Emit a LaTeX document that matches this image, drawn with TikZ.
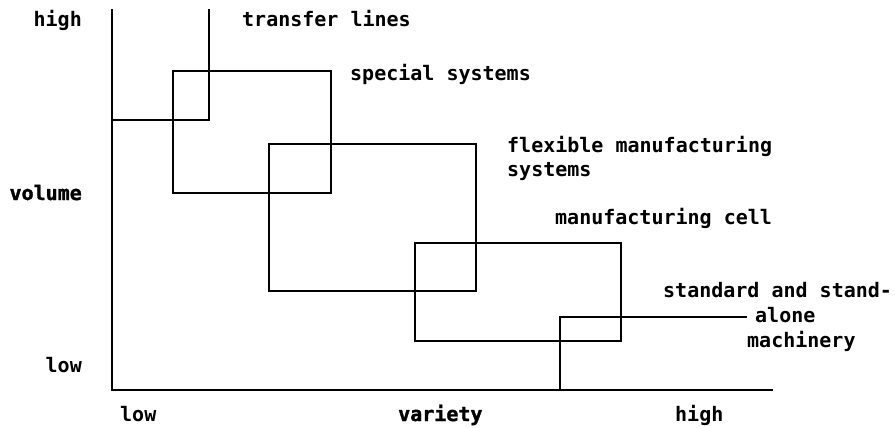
\documentclass[tikz,border=0pt]{standalone}
\usepackage{fontspec}
\newfontfamily\lblfont{DejaVu Sans Mono Bold}
\newfontfamily\axfont[FakeBold=1.6]{DejaVu Sans Mono Bold}
\begin{document}
\begin{tikzpicture}[x=1pt,y=-1pt,
  ln/.style={line width=1.9pt,line cap=rect},
  lbl/.style={font=\lblfont\fontsize{20}{24}\selectfont,inner sep=0pt,anchor=base west},
  lblr/.style={font=\lblfont\fontsize{20}{24}\selectfont,inner sep=0pt,anchor=base east},
  bld/.style={font=\axfont\fontsize{20}{24}\selectfont,inner sep=0pt}]
\useasboundingbox (0,0) rectangle (895,428);
% axes
\coordinate (top) at (112,10);
\coordinate (origin) at (112,390);
\coordinate (xend) at (772,390);
\draw[ln] (top) -- (origin) -- (xend);
% transfer lines
\coordinate (t1) at (209,10);
\coordinate (t2) at (209,120);
\coordinate (t3) at (112,120);
\draw[ln] (t1) -- (t2) -- (t3);
% special systems
\draw[ln] (173,71) rectangle (331,193);
% flexible manufacturing systems
\draw[ln] (269,144) rectangle (476,291);
% manufacturing cell
\draw[ln] (415,243) rectangle (621,341);
% standard machinery
\coordinate (s1) at (560,390);
\coordinate (s2) at (560,317);
\coordinate (s3) at (746,317);
\draw[ln] (s1) -- (s2) -- (s3);
% labels
\node[lblr] (yhigh) at (82,27) {high};
\node[bld,anchor=base east] (ylab) at (82,200) {volume};
\node[lblr] (ylow) at (82,372) {low};
\node[lbl] (xlow) at (120,421) {low};
\node[bld,anchor=base west] (xlab) at (398,421) {variety};
\node[lbl] (xhigh) at (675,421) {high};
\node[lbl] (ltl) at (242,27) {transfer lines};
\node[lbl] (lss) at (350,81) {special systems};
\node[lbl] (lfms1) at (507,152) {flexible manufacturing};
\node[lbl] (lfms2) at (507,176) {systems};
\node[lbl] (lmc) at (555,224) {manufacturing cell};
\node[lbl] (lst1) at (663,297) {standard and stand-};
\node[lbl] (lst2) at (755,322) {alone};
\node[lbl] (lst3) at (747,347) {machinery};
\end{tikzpicture}
\end{document}
